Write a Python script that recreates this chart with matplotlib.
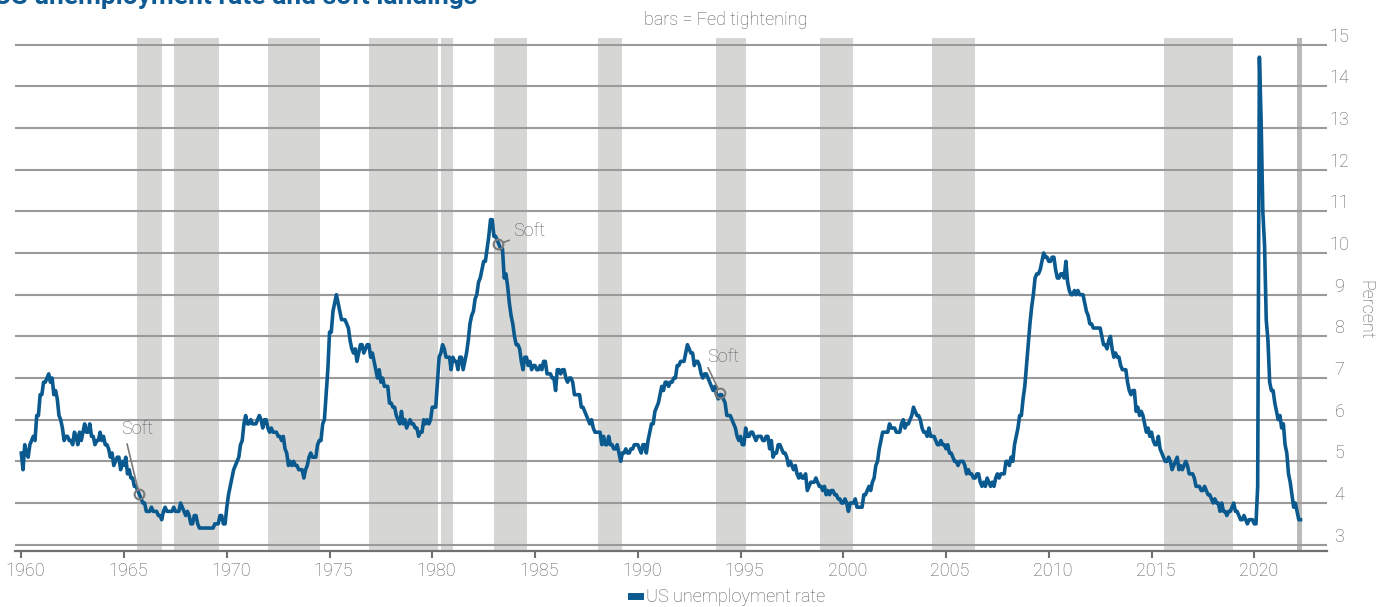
from matplotlib import pyplot as plt
from matplotlib.lines import Line2D
import matplotlib.transforms as mtransforms
import numpy as np

plt.rcParams['font.family'] = ['Roboto', 'DejaVu Sans']

# monthly US unemployment rate, from Jan 1960
start_year = 1960
unrate = [
    5.2, 4.8, 5.4, 5.2, 5.1, 5.4, 5.5, 5.6, 5.5, 6.1, 6.1, 6.6,  # 1960
    6.6, 6.9, 6.9, 7.0, 7.1, 6.9, 7.0, 6.6, 6.7, 6.5, 6.1, 6.0,  # 1961
    5.8, 5.5, 5.6, 5.6, 5.5, 5.5, 5.4, 5.7, 5.6, 5.4, 5.7, 5.5,  # 1962
    5.7, 5.9, 5.7, 5.7, 5.9, 5.6, 5.6, 5.4, 5.5, 5.5, 5.7, 5.5,  # 1963
    5.6, 5.4, 5.4, 5.3, 5.1, 5.2, 4.9, 5.0, 5.1, 5.1, 4.8, 5.0,  # 1964
    4.9, 5.1, 4.7, 4.8, 4.6, 4.6, 4.4, 4.4, 4.3, 4.2, 4.1, 4.0,  # 1965
    4.0, 3.8, 3.8, 3.8, 3.9, 3.8, 3.8, 3.8, 3.7, 3.7, 3.6, 3.8,  # 1966
    3.9, 3.8, 3.8, 3.8, 3.8, 3.9, 3.8, 3.8, 3.8, 4.0, 3.9, 3.8,  # 1967
    3.7, 3.8, 3.7, 3.5, 3.5, 3.7, 3.7, 3.5, 3.4, 3.4, 3.4, 3.4,  # 1968
    3.4, 3.4, 3.4, 3.4, 3.4, 3.5, 3.5, 3.5, 3.7, 3.7, 3.5, 3.5,  # 1969
    3.9, 4.2, 4.4, 4.6, 4.8, 4.9, 5.0, 5.1, 5.4, 5.5, 5.9, 6.1,  # 1970
    5.9, 5.9, 6.0, 5.9, 5.9, 5.9, 6.0, 6.1, 6.0, 5.8, 6.0, 6.0,  # 1971
    5.8, 5.7, 5.8, 5.7, 5.7, 5.7, 5.6, 5.6, 5.5, 5.6, 5.3, 5.2,  # 1972
    4.9, 5.0, 4.9, 5.0, 4.9, 4.9, 4.8, 4.8, 4.8, 4.6, 4.8, 4.9,  # 1973
    5.1, 5.2, 5.1, 5.1, 5.1, 5.4, 5.5, 5.5, 5.9, 6.0, 6.6, 7.2,  # 1974
    8.1, 8.1, 8.6, 8.8, 9.0, 8.8, 8.6, 8.4, 8.4, 8.4, 8.3, 8.2,  # 1975
    7.9, 7.7, 7.6, 7.7, 7.4, 7.6, 7.8, 7.8, 7.6, 7.7, 7.8, 7.8,  # 1976
    7.5, 7.6, 7.4, 7.2, 7.0, 7.2, 6.9, 7.0, 6.8, 6.8, 6.8, 6.4,  # 1977
    6.4, 6.3, 6.3, 6.1, 6.0, 5.9, 6.2, 5.9, 6.0, 5.8, 5.9, 6.0,  # 1978
    5.9, 5.9, 5.8, 5.8, 5.6, 5.7, 5.7, 6.0, 5.9, 6.0, 5.9, 6.0,  # 1979
    6.3, 6.3, 6.3, 6.9, 7.5, 7.6, 7.8, 7.7, 7.5, 7.5, 7.5, 7.2,  # 1980
    7.5, 7.4, 7.4, 7.2, 7.5, 7.5, 7.2, 7.4, 7.6, 7.9, 8.3, 8.5,  # 1981
    8.6, 8.9, 9.0, 9.3, 9.4, 9.6, 9.8, 9.8, 10.1, 10.4, 10.8, 10.8,  # 1982
    10.4, 10.4, 10.3, 10.2, 10.1, 10.1, 9.4, 9.5, 9.2, 8.8, 8.5, 8.3,  # 1983
    8.0, 7.8, 7.8, 7.7, 7.4, 7.2, 7.5, 7.5, 7.3, 7.4, 7.2, 7.3,  # 1984
    7.3, 7.2, 7.2, 7.3, 7.2, 7.4, 7.4, 7.1, 7.1, 7.1, 7.0, 7.0,  # 1985
    6.7, 7.2, 7.2, 7.1, 7.2, 7.2, 7.0, 6.9, 7.0, 7.0, 6.9, 6.6,  # 1986
    6.6, 6.6, 6.6, 6.3, 6.3, 6.2, 6.1, 6.0, 5.9, 6.0, 5.8, 5.7,  # 1987
    5.7, 5.7, 5.7, 5.4, 5.6, 5.4, 5.4, 5.6, 5.4, 5.4, 5.3, 5.3,  # 1988
    5.4, 5.2, 5.0, 5.2, 5.2, 5.3, 5.2, 5.2, 5.3, 5.3, 5.4, 5.4,  # 1989
    5.4, 5.3, 5.2, 5.4, 5.4, 5.2, 5.5, 5.7, 5.9, 5.9, 6.2, 6.3,  # 1990
    6.4, 6.6, 6.8, 6.7, 6.9, 6.9, 6.8, 6.9, 6.9, 7.0, 7.0, 7.3,  # 1991
    7.3, 7.4, 7.4, 7.4, 7.6, 7.8, 7.7, 7.6, 7.6, 7.3, 7.4, 7.4,  # 1992
    7.3, 7.1, 7.0, 7.1, 7.1, 7.0, 6.9, 6.8, 6.7, 6.8, 6.6, 6.5,  # 1993
    6.6, 6.6, 6.5, 6.4, 6.1, 6.1, 6.1, 6.0, 5.9, 5.8, 5.6, 5.5,  # 1994
    5.6, 5.4, 5.4, 5.8, 5.6, 5.6, 5.7, 5.7, 5.6, 5.5, 5.6, 5.6,  # 1995
    5.6, 5.5, 5.5, 5.6, 5.6, 5.3, 5.5, 5.1, 5.2, 5.2, 5.4, 5.4,  # 1996
    5.3, 5.2, 5.2, 5.1, 4.9, 5.0, 4.9, 4.8, 4.9, 4.7, 4.6, 4.7,  # 1997
    4.6, 4.6, 4.7, 4.3, 4.4, 4.5, 4.5, 4.5, 4.6, 4.5, 4.4, 4.4,  # 1998
    4.3, 4.4, 4.2, 4.3, 4.2, 4.3, 4.3, 4.2, 4.2, 4.1, 4.1, 4.0,  # 1999
    4.0, 4.1, 4.0, 3.8, 4.0, 4.0, 4.0, 4.1, 3.9, 3.9, 3.9, 3.9,  # 2000
    4.2, 4.2, 4.3, 4.4, 4.3, 4.5, 4.6, 4.9, 5.0, 5.3, 5.5, 5.7,  # 2001
    5.7, 5.7, 5.7, 5.9, 5.8, 5.8, 5.8, 5.7, 5.7, 5.7, 5.9, 6.0,  # 2002
    5.8, 5.9, 5.9, 6.0, 6.1, 6.3, 6.2, 6.1, 6.1, 6.0, 5.8, 5.7,  # 2003
    5.7, 5.6, 5.8, 5.6, 5.6, 5.6, 5.5, 5.4, 5.4, 5.5, 5.4, 5.4,  # 2004
    5.3, 5.4, 5.2, 5.2, 5.1, 5.0, 5.0, 4.9, 5.0, 5.0, 5.0, 4.9,  # 2005
    4.7, 4.8, 4.7, 4.7, 4.6, 4.6, 4.7, 4.7, 4.5, 4.4, 4.5, 4.4,  # 2006
    4.6, 4.5, 4.4, 4.5, 4.4, 4.6, 4.7, 4.6, 4.7, 4.7, 4.7, 5.0,  # 2007
    5.0, 4.9, 5.1, 5.0, 5.4, 5.6, 5.8, 6.1, 6.1, 6.5, 6.8, 7.3,  # 2008
    7.8, 8.3, 8.7, 9.0, 9.4, 9.5, 9.5, 9.6, 9.8, 10.0, 9.9, 9.9,  # 2009
    9.8, 9.8, 9.9, 9.9, 9.6, 9.4, 9.4, 9.5, 9.5, 9.4, 9.8, 9.3,  # 2010
    9.1, 9.0, 9.0, 9.1, 9.0, 9.1, 9.0, 9.0, 9.0, 8.8, 8.6, 8.5,  # 2011
    8.3, 8.3, 8.2, 8.2, 8.2, 8.2, 8.2, 8.0, 7.8, 7.8, 7.7, 7.9,  # 2012
    8.0, 7.7, 7.5, 7.6, 7.5, 7.5, 7.3, 7.2, 7.2, 7.2, 6.9, 6.7,  # 2013
    6.6, 6.7, 6.7, 6.2, 6.3, 6.1, 6.2, 6.1, 5.9, 5.7, 5.8, 5.6,  # 2014
    5.7, 5.5, 5.4, 5.4, 5.6, 5.3, 5.2, 5.1, 5.0, 5.0, 5.1, 5.0,  # 2015
    4.8, 4.9, 5.0, 5.1, 4.8, 4.9, 4.8, 4.9, 5.0, 4.9, 4.7, 4.7,  # 2016
    4.7, 4.6, 4.4, 4.4, 4.4, 4.3, 4.3, 4.4, 4.3, 4.2, 4.2, 4.1,  # 2017
    4.0, 4.1, 4.0, 4.0, 3.8, 4.0, 3.8, 3.8, 3.7, 3.8, 3.8, 3.9,  # 2018
    4.0, 3.8, 3.8, 3.7, 3.6, 3.6, 3.7, 3.6, 3.5, 3.6, 3.6, 3.6,  # 2019
    3.5, 3.5, 4.4, 14.7, 13.2, 11.0, 10.2, 8.4, 7.9, 6.9, 6.7, 6.7,  # 2020
    6.4, 6.2, 6.0, 6.1, 5.8, 5.9, 5.4, 5.2, 4.7, 4.5, 4.2, 3.9,  # 2021
    4.0, 3.8, 3.6, 3.6,  # 2022
]

# Fed tightening periods (decimal years)
tight_start = [1965.63, 1967.43, 1972.02, 1976.92, 1980.44, 1983.02, 1988.06,
               1993.82, 1998.88, 2004.33, 2015.62]
tight_end = [1966.86, 1969.60, 1974.54, 1980.28, 1980.99, 1984.61, 1989.23,
             1995.25, 2000.46, 2006.39, 2018.96]
current_start, current_end = 2022.07, 2022.34

# soft landings
soft_dates = [1965.73, 1983.21, 1994.0]
soft_values = [4.22, 10.21, 6.65]

y_ticks = list(range(3, 16))
x_ticks = list(range(1960, 2021, 5))

blue = '#0b5a8f'
grey_text = '#5c5c5c'
fs = 13

fig = plt.figure(figsize=(13.76, 6.07), dpi=100)
ax = fig.add_axes([15/1376, 1 - 550.7/607, 1312/1376, (550.7 - 38)/607])

dates = start_year + np.arange(len(unrate)) / 12

for s, e in zip(tight_start, tight_end):
    ax.axvspan(s, e, color='#d6d7d5', lw=0, zorder=0)
ax.axvspan(current_start, current_end, color='#b9bbba', lw=0, zorder=0)

for y in y_ticks:
    ax.axhline(y, color='#9a9a9a', lw=1.5, zorder=1)

ax.plot(dates, unrate, color=blue, lw=2.6, zorder=3, solid_joinstyle='round')

# soft landing markers and labels
line_off = [(-12, 50), (11, 4), (-12, 25)]
text_off = [(-2, 65), (31, 13), (3, 36)]
for d, v, lo, to in zip(soft_dates, soft_values, line_off, text_off):
    ax.plot(d, v, 'o', ms=7, mfc='none', mec='#7a7a7a', mew=1.5, zorder=4)
    ax.annotate('', xy=(d, v), xytext=lo, textcoords='offset pixels',
                arrowprops=dict(arrowstyle='-', color='#7a7a7a', lw=1.2,
                                shrinkA=0, shrinkB=3.5), zorder=4)
    ax.annotate('Soft', xy=(d, v), xytext=to, textcoords='offset pixels',
                ha='center', va='center', fontsize=fs, color=grey_text,
                fontweight='light')

ax.set_xlim(1959.693, 2023.54)
ax.set_ylim(2.856, 15.16)

for side in ['top', 'right', 'left']:
    ax.spines[side].set_visible(False)
ax.spines['bottom'].set_color('#707070')
ax.spines['bottom'].set_linewidth(1.6)

ax.set_xticks(x_ticks)
ax.set_xticklabels([str(x) for x in x_ticks])
ax.tick_params(axis='x', length=5, width=1.5, color='#707070', labelsize=fs,
               labelcolor=grey_text, pad=3)
for lab in ax.get_xticklabels():
    lab.set_fontweight('light')
    lab.set_transform(lab.get_transform() + mtransforms.ScaledTranslation(4/100, 0, fig.dpi_scale_trans))
ax.set_yticks([])

# right-hand percent labels, sitting above the gridlines
trans = mtransforms.offset_copy(ax.get_yaxis_transform(), fig=fig, x=0, y=8, units='dots')
for y in y_ticks:
    ax.text(1.0095, y, str(y), transform=trans, ha='center', va='center',
            fontsize=fs, color=grey_text, fontweight='light')

fig.text(1365.7/1376, 1 - 310/607, 'Percent', rotation=270, ha='center', va='center',
         fontsize=fs, color=grey_text, fontweight='light')

fig.text(726/1376, 1 - 20/607, 'bars = Fed tightening', ha='center', va='center',
         fontsize=fs, color=grey_text, fontweight='light')

fig.text(-0.004, 1 - 4/607, 'US unemployment rate and soft landings', ha='left',
         va='baseline', fontsize=19, fontweight='bold', color='#0d5a94')

fig.legend(handles=[Line2D([], [], color=blue, lw=5)], labels=['US unemployment rate'],
           loc='center', bbox_to_anchor=(728/1376, 1 - 597/607), frameon=False,
           handlelength=0.5, handletextpad=0.3, labelcolor=grey_text,
           prop={'weight': 'light', 'size': fs})

fig.savefig('out.png', dpi=100)
